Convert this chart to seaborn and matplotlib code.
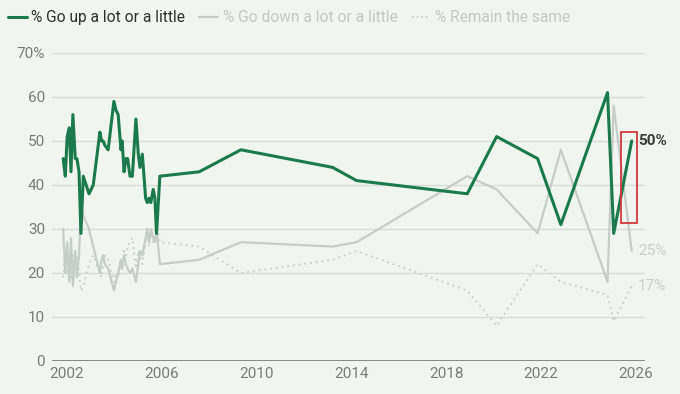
import pandas as pd
import matplotlib.pyplot as plt
import seaborn as sns
from matplotlib.lines import Line2D
from matplotlib.patches import Rectangle

#---- Dados
anos = [2001.84, 2001.93, 2002.01, 2002.10, 2002.17, 2002.25, 2002.35, 2002.42, 2002.51, 2002.59,
        2002.69, 2002.93, 2003.11, 2003.39, 2003.46, 2003.53, 2003.60, 2003.74, 2003.98, 2004.07,
        2004.16, 2004.28, 2004.33, 2004.41, 2004.49, 2004.56, 2004.66, 2004.76, 2004.91, 2005.01,
        2005.08, 2005.18, 2005.32, 2005.39, 2005.47, 2005.54, 2005.64, 2005.71, 2005.78, 2005.92,
        2007.58, 2009.34, 2013.21, 2014.22, 2018.89, 2020.13, 2021.86, 2022.84, 2024.81, 2025.07,
        2025.83]

sobe = [46, 42, 51, 53, 43, 56, 46, 46, 43, 29,
        42, 38, 40, 52, 50, 50, 49, 48, 59, 57,
        56, 48, 50, 43, 46, 46, 42, 42, 55, 47,
        44, 47, 37, 36, 37, 36, 39, 37, 29, 42,
        43, 48, 44, 41, 38, 51, 46, 31, 61, 29,
        50]

desce = [30, 20, 27, 18, 28, 17, 25, 19, 24, 35,
         33, 30, 26, 20, 23, 24, 22, 21, 16, 18,
         20, 23, 21, 24, 22, 21, 20, 21, 18, 22,
         25, 24, 28, 30, 27, 30, 28, 27, 30, 22,
         23, 27, 26, 27, 42, 39, 29, 48, 18, 58,
         25]

igual = [19, 25, 20, 22, 19, 24, 21, 24, 20, 16,
         17, 22, 24, 20, 19, 22, 24, 23, 18, 20,
         19, 23, 21, 25, 24, 26, 27, 28, 21, 25,
         24, 22, 27, 28, 26, 29, 27, 28, 31, 27,
         26, 20, 23, 25, 16, 8, 22, 18, 15, 9,
         17]

yticks = [0, 10, 20, 30, 40, 50, 60, 70]
ytick_labels = ['0', '10', '20', '30', '40', '50', '60', '70%']
xticks = [2002, 2006, 2010, 2014, 2018, 2022, 2026]

df = pd.DataFrame({'Ano': anos, 'Sobe': sobe, 'Desce': desce, 'Igual': igual})

#---- Estilo
fundo = '#f0f6ef'
verde = '#1b7a4c'
cinza = '#c6ccc7'
sns.set_theme(style='white')
plt.rcParams['font.family'] = ['Roboto', 'DejaVu Sans']

fig = plt.figure(figsize=(6.8, 3.94), dpi=100, facecolor=fundo)
ax = fig.add_axes([0.0765, 0.0838, 0.872, 0.7817], facecolor=fundo)

for y in yticks[1:]:
    ax.axhline(y, color='#d7ddd7', lw=1, zorder=0)

sns.lineplot(data=df, x='Ano', y='Igual', ax=ax, color=cinza, lw=1.3,
             linestyle=(0, (1, 2.2)), zorder=2)
sns.lineplot(data=df, x='Ano', y='Desce', ax=ax, color=cinza, lw=1.6, zorder=3)
sns.lineplot(data=df, x='Ano', y='Sobe', ax=ax, color=verde, lw=2.2, zorder=4)
ax.axhline(0, color='#7b807b', lw=2, zorder=5)

ax.set_xlim(2001.37, 2026.39)
ax.set_ylim(0, 70)
ax.set_xticks(xticks)
ax.set_xticklabels([str(x) for x in xticks])
ax.set_yticks(yticks)
ax.set_yticklabels(ytick_labels)
ax.tick_params(axis='both', length=0, labelsize=11, labelcolor='#777c77')
ax.tick_params(axis='x', pad=4)
ax.tick_params(axis='y', pad=5)
ax.set_xlabel('')
ax.set_ylabel('')
sns.despine(ax=ax, left=True, bottom=True)

#---- Rotulos finais
ax.text(2026.1, sobe[-1], f'{sobe[-1]}%', color='#3a3a3a', fontsize=11,
        fontweight='bold', va='center', ha='left')
ax.text(2026.1, desce[-1], f'{desce[-1]}%', color='#c9cfca', fontsize=11,
        va='center', ha='left')
ax.text(2026.1, igual[-1], f'{igual[-1]}%', color='#c9cfca', fontsize=11,
        va='center', ha='left')

ax.add_patch(Rectangle((2025.39, 31.4), 0.66, 20.6, fill=False,
                       edgecolor='#d2393c', lw=1.3, zorder=6))

#---- Legenda
handles = [Line2D([], [], color=verde, lw=2.2),
           Line2D([], [], color=cinza, lw=1.6),
           Line2D([], [], color=cinza, lw=1.3, linestyle=(0, (1, 1.5)))]
labels = ['% Go up a lot or a little', '% Go down a lot or a little', '% Remain the same']
leg = ax.legend(handles, labels, ncol=3, frameon=False, loc='center left',
                bbox_to_anchor=(0.012, 0.955), bbox_transform=fig.transFigure,
                handlelength=1.2, handletextpad=0.3, columnspacing=0.9,
                fontsize=11.2, borderaxespad=0, borderpad=0)
for txt, c in zip(leg.get_texts(), ['#2e2e2e', '#c2c8c3', '#c2c8c3']):
    txt.set_color(c)

plt.savefig('out.png', dpi=100, facecolor=fundo)
